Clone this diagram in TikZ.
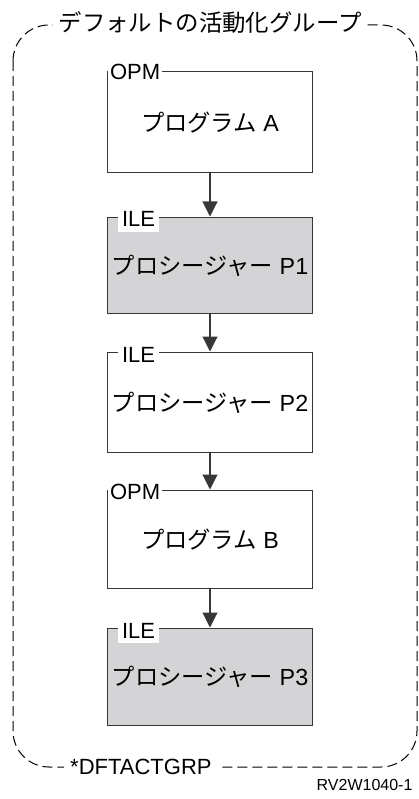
\documentclass[tikz,border=0pt]{standalone}
\usepackage{fontspec}
\setmainfont{Liberation Sans}
\newfontfamily\jpfont{Noto Sans CJK JP}
\usepackage{tikz}
\usetikzlibrary{arrows.meta}
\definecolor{boxgray}{RGB}{212,212,214}
\definecolor{edgegray}{RGB}{55,55,55}
\tikzset{
    >={Triangle[width=15pt, length=15pt]},
    bigfont/.style={font=\fontsize{22}{26}\selectfont},
    textfont/.style={font=\fontsize{23.3}{27}\selectfont},
    progbox/.style={draw=edgegray, line width=1.3pt, anchor=north, textfont,
        minimum width=205pt, inner sep=0pt},
    ilebox/.style={progbox, fill=boxgray},
    tag/.style={fill=white, anchor=west, bigfont, inner xsep=#1, inner ysep=2pt,
        text height=17pt, text depth=3pt},
    tag/.default=2pt,
    flow/.style={->, line width=1.1pt, edgegray, shorten >=0.5pt},
    groupline/.style={dash pattern=on 10pt off 5pt, line width=1pt, rounded corners=36pt},
}
\newcommand{\jp}[1]{{\jpfont #1}}

\begin{document}
\begin{tikzpicture}[x=1pt, y=-1pt]
        \useasboundingbox (0,0) rectangle (418,799);
        % activation group
        \draw[groupline] (13,25) rectangle (417,767);
        \node[fill=white, inner xsep=6pt, inner ysep=2pt, font=\fontsize{23.4}{27}\selectfont]
            (grptitle) at (210,23) {\jp{デフォルトの活動化グループ}};
        \node[fill=white, inner xsep=6pt, inner ysep=2pt, bigfont, anchor=west]
            (grpname) at (64,767) {*DFTACTGRP};
        \node[anchor=south east, font=\fontsize{16}{19}\selectfont] (figid) at (416,794) {RV2W1040-1};
        % programs and procedures
        \node[progbox, minimum height=101pt] (progA) at (210,71) {\jp{プログラム} A};
        \node[ilebox, minimum height=96pt] (procP1) at (210,217) {\jp{プロシージャー} P1};
        \node[progbox, minimum height=100pt] (procP2) at (210,352) {\jp{プロシージャー} P2};
        \node[progbox, minimum height=98pt] (progB) at (210,490) {\jp{プログラム} B};
        \node[ilebox, minimum height=97pt] (procP3) at (210,628) {\jp{プロシージャー} P3};
        % box tags
        \foreach \n/\t/\off in {progA/OPM/1, progB/OPM/1} {
            \node[tag] (\n-tag) at ([xshift=\off pt, yshift=-2pt]\n.north west) {\t};
        }
        \foreach \n/\t/\off in {procP1/ILE/11, procP2/ILE/11, procP3/ILE/11} {
            \node[tag=4pt] (\n-tag) at ([xshift=\off pt, yshift=-3pt]\n.north west) {\t};
        }
        % call flow
        \foreach \a/\b in {progA/procP1, procP1/procP2, procP2/progB, progB/procP3}
            \draw[flow] (\a) -- (\b);
    \end{tikzpicture}
\end{document}
